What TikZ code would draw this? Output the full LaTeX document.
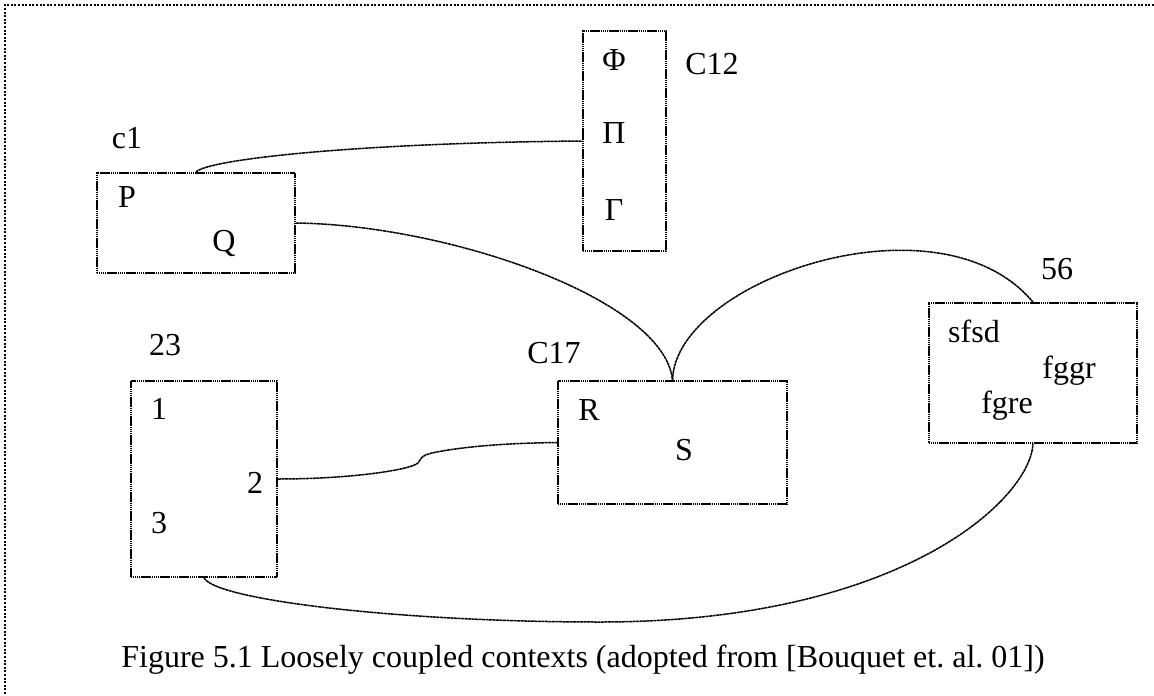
\documentclass[tikz,border=0pt]{standalone}
\usepackage{fontspec}
\setmainfont{Liberation Serif}
\frenchspacing
\begin{document}
\begin{tikzpicture}[x=1pt,y=-1pt,
  ctx/.style={draw, rectangle, inner sep=0pt, line width=1.6pt, dash pattern=on 1.4pt off 0.5pt},
  link/.style={line width=1.5pt, dash pattern=on 3pt off 0.5pt},
  lbl/.style={anchor=base, inner sep=0pt, font=\fontsize{32}{38}\selectfont},
  frame/.style={line width=2pt, dash pattern=on 2pt off 1.6pt}]
\useasboundingbox (0,0) rectangle (1154,696);
% outer frame (top and left only)
\coordinate (tl) at (5,5);
\coordinate (tr) at (1154,5);
\coordinate (bl) at (5,696);
\draw[frame] (tr) -- (tl) -- (bl);

% context boxes
\node[ctx, minimum width=198pt, minimum height=100pt] (c1box) at (196,223) {};
\node[ctx, minimum width=83pt, minimum height=220pt] (c12box) at (624.5,141) {};
\node[ctx, minimum width=229pt, minimum height=123pt] (c17box) at (672.5,442.5) {};
\node[ctx, minimum width=146pt, minimum height=196pt] (b23) at (204,479) {};
\node[ctx, minimum width=208pt, minimum height=140pt] (b56) at (1033,373) {};

% labels
\node[lbl] (lc1) at (127,148) {c1};
\node[lbl] (lP) at (127,207) {P};
\node[lbl] (lQ) at (224,251) {Q};
\node[lbl] (lPhi) at (614,70) {Φ};
\node[lbl] (lPi) at (614,143) {Π};
\node[lbl] (lGamma) at (614,220) {Γ};
\node[lbl] (lC12) at (712,74) {C12};
\node[lbl] (l23) at (165,355) {23};
\node[lbl] (l1) at (159,419) {1};
\node[lbl] (l2) at (255,493) {2};
\node[lbl] (l3) at (159,533) {3};
\node[lbl] (lC17) at (554,363) {C17};
\node[lbl] (lR) at (589,420) {R};
\node[lbl] (lS) at (684,460) {S};
\node[lbl] (l56) at (1057,279) {56};
\node[lbl] (lsfsd) at (974,342) {sfsd};
\node[lbl] (lfggr) at (1069,378) {fggr};
\node[lbl] (lfgre) at (1007,413) {fgre};
\node[lbl] (cap) at (583,667) {Figure 5.1 Loosely coupled contexts (adopted from [Bouquet et. al. 01])};

% connectors
\draw[link] (c1box.north) .. controls (205,160) and (350,143) .. (c12box.west);
\draw[link] (c1box.east) .. controls (450,225) and (665,300) .. (c17box.north);
\draw[link] (c17box.north) .. controls (675,280) and (940,190) .. (b56.north);
\draw[link] (b23.east) .. controls (350,479) and (410,470) .. (418,463)
   .. controls (422,458) and (420,456) .. (432,453)
   .. controls (470,445) and (520,443) .. (c17box.west);
\draw[link] (b23.south) .. controls (215,600) and (400,622) .. (600,622)
   .. controls (900,622) and (1030,500) .. (b56.south);
\end{tikzpicture}
\end{document}
